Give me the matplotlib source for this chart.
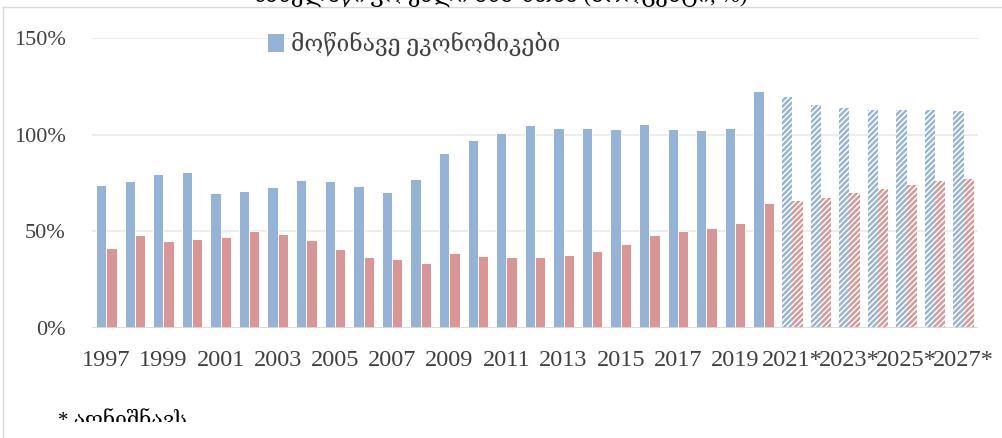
import matplotlib
matplotlib.use('Agg')
import matplotlib.pyplot as plt
from matplotlib.patches import Patch
from matplotlib.lines import Line2D
from matplotlib.transforms import Bbox, TransformedBbox
import numpy as np

# data (percent)
years = [str(y) for y in range(1997, 2021)] + [str(y) + '*' for y in range(2021, 2028)]
advanced = [73.9, 76.1, 79.7, 80.9, 69.7, 70.8, 72.8, 76.3, 75.8, 73.2, 70.6, 77.3,
            90.7, 97.1, 101.0, 105.2, 103.6, 103.2, 102.7, 105.3, 102.9, 102.4, 103.4, 122.8,
            119.7, 115.6, 113.6, 112.9, 112.9, 112.9, 112.4]
emerging = [41.2, 47.9, 44.8, 45.9, 46.9, 50.2, 48.5, 45.7, 41.0, 36.9, 35.6, 33.7,
            38.8, 37.4, 36.6, 36.6, 37.8, 39.8, 43.5, 47.9, 50.2, 51.9, 54.1, 64.6,
            65.6, 67.2, 69.6, 71.8, 73.9, 75.9, 77.0]
yticks = [0, 50, 100, 150]
legend_label = 'მოწინავე ეკონომიკები'
footnote = '* აღნიშნავს'
title = 'სახელმწიფო ვალი მშპ-სთან (პროცენტი, %)'

blue = '#95B3D7'
red = '#D99694'
geo_font = ['Liberation Serif', 'DejaVu Serif']

plt.rcParams['font.family'] = geo_font
plt.rcParams['hatch.linewidth'] = 1.7

fig = plt.figure(figsize=(10.03, 4.38), dpi=100)
ax = fig.add_axes([92 / 1003, 1 - 328 / 438, (978 - 92) / 1003, (328 - 38) / 438])

x = np.arange(len(years))
w = 0.36
forecast = np.array(['*' in y for y in years])

for i in range(len(years)):
    if forecast[i]:
        ax.bar(x[i] - w / 2, advanced[i], w, color='white', edgecolor=blue,
               hatch='//////', linewidth=0, zorder=2)
        ax.bar(x[i] + w / 2, emerging[i], w, color='white', edgecolor=red,
               hatch='//////', linewidth=0, zorder=2)
    else:
        ax.bar(x[i] - w / 2, advanced[i], w, color=blue, edgecolor='white',
               linewidth=0.7, zorder=2)
        ax.bar(x[i] + w / 2, emerging[i], w, color=red, edgecolor='white',
               linewidth=0.7, zorder=2)

ax.set_xlim(-0.5, len(years) - 0.5)
ax.set_ylim(0, 150)
ax.set_yticks(yticks)
ax.set_yticklabels(['%d%%' % v for v in yticks])
ax.set_xticks(x[::2])
ax.set_xticklabels(years[::2])
ax.tick_params(axis='x', length=0, pad=16, labelsize=17.5, labelcolor='#404040')
ax.tick_params(axis='y', length=0, pad=19, labelsize=16, labelcolor='#404040')

for v in yticks[1:]:
    ax.axhline(v, color='#EBEBEB', linewidth=1.3, zorder=1)
ax.axhline(0, color='#D9D9D9', linewidth=2, zorder=3)
for s in ax.spines.values():
    s.set_visible(False)

ax.legend(handles=[Patch(facecolor=blue)], labels=[legend_label],
          loc='upper left', bbox_to_anchor=(268 / 1003, 1 - 32 / 438),
          bbox_transform=fig.transFigure, frameon=False, fontsize=16.5,
          handlelength=0.7, handleheight=0.85, handletextpad=0.3, borderpad=0,
          borderaxespad=0, labelcolor='#404040')

# chart frame, only top and left edges visible
fig.add_artist(Line2D([3 / 1003, 3 / 1003], [0, 1 - 7 / 438], color='#D9D9D9',
                      linewidth=1, transform=fig.transFigure))
fig.add_artist(Line2D([3 / 1003, 1], [1 - 7 / 438, 1 - 7 / 438], color='#D9D9D9',
                      linewidth=1, transform=fig.transFigure))

fig.text(500 / 1003, 1 - 3 / 438, title, fontsize=16, ha='center', va='baseline')

# footnote is clipped at its lower part, like in the source
note = fig.text(58 / 1003, 1 - 408 / 438, footnote, fontsize=15, va='top')
note.set_clip_on(True)
note.set_clip_box(TransformedBbox(Bbox([[0, 1 - 422 / 438], [1, 1]]), fig.transFigure))

fig.savefig('out.png', dpi=100)
